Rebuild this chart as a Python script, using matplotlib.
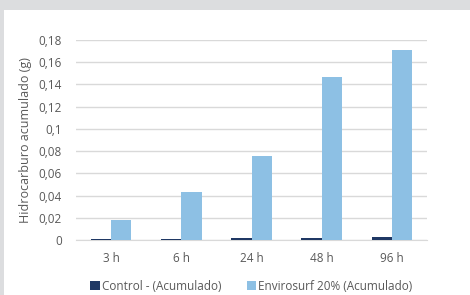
import numpy as np
import matplotlib
matplotlib.use('Agg')
import matplotlib.pyplot as plt
from matplotlib.patches import Rectangle
from matplotlib.ticker import FuncFormatter

categories = ['3 h', '6 h', '24 h', '48 h', '96 h']
control = [0.001, 0.001, 0.0015, 0.0015, 0.003]
envirosurf = [0.018, 0.043, 0.076, 0.147, 0.171]
series_names = ['Control - (Acumulado)', 'Envirosurf 20% (Acumulado)']
yticks = [0, 0.02, 0.04, 0.06, 0.08, 0.1, 0.12, 0.14, 0.16, 0.18]

plt.rcParams['font.family'] = ['Open Sans', 'DejaVu Sans']
text_color = '#595959'

fig = plt.figure(figsize=(4.7, 2.95), dpi=100, facecolor='#dcdddf')
# white card with gray frame on top and left
fig.patches.append(Rectangle((4 / 470, 0), 1, 1 - 10 / 295, transform=fig.transFigure,
                             facecolor='white', edgecolor='none', zorder=-5))

ax = fig.add_axes([76 / 470, 55 / 295, (427 - 76) / 470, 200 / 295])
ax.set_facecolor('white')

x = np.arange(len(categories))
w = 0.29
ax.bar(x - w / 2, control, width=w, color='#1f3864', label=series_names[0], zorder=3)
ax.bar(x + w / 2, envirosurf, width=w, color='#8dc0e4', label=series_names[1], zorder=3)

ax.set_xlim(-0.5, len(categories) - 0.5)
ax.set_ylim(0, 0.18)
ax.set_yticks(yticks)
ax.yaxis.set_major_formatter(FuncFormatter(lambda v, p: ('%g' % round(v, 2)).replace('.', ',')))
ax.set_xticks(x)
ax.set_xticklabels(categories)
ax.grid(axis='y', color='#d9d9d9', linewidth=1, zorder=0)
for s in ['top', 'right', 'left']:
    ax.spines[s].set_visible(False)
ax.spines['bottom'].set_color('#d9d9d9')
ax.tick_params(length=0, labelsize=8.5, colors=text_color)
ax.tick_params(axis='y', pad=10)
ax.tick_params(axis='x', pad=9)
ax.set_ylabel('Hidrocarburo acumulado (g)', fontsize=9, color=text_color, labelpad=5)

leg = ax.legend(loc='center', bbox_to_anchor=(0.5, -0.23), ncol=2, frameon=False,
                fontsize=8.5, handlelength=0.8, handleheight=0.8, handletextpad=0.2,
                columnspacing=2.1, borderpad=0)
for t in leg.get_texts():
    t.set_color(text_color)

fig.savefig('out.png', dpi=100, facecolor=fig.get_facecolor())
